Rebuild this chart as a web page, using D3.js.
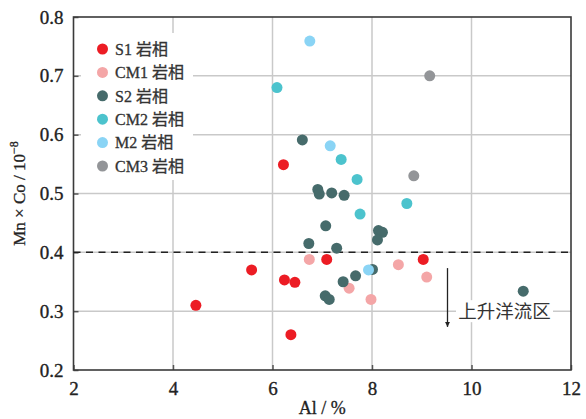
<!DOCTYPE html>
<html><head><meta charset="utf-8">
<script src="https://cdn.jsdelivr.net/npm/d3@7"></script>
<style>body{margin:0;background:#fff}svg{display:block}</style>
</head><body>
<script>
// ---- data ----
const seriesNames = ["S1 岩相","CM1 岩相","S2 岩相","CM2 岩相","M2 岩相","CM3 岩相"];
const seriesColors = ["#ec1c24","#f4a6a7","#466b6b","#4cc3cd","#8ad4f5","#939598"];
const s1Al = [6.22,5.58,6.24,6.45,6.37,7.09,9.03,4.46];
const s1MnCo = [0.549,0.370,0.353,0.349,0.260,0.388,0.388,0.310];
const cm1Al = [6.74,7.54,7.98,8.53,9.10];
const cm1MnCo = [0.388,0.339,0.320,0.379,0.358];
const s2Al = [6.60,6.91,6.94,7.19,7.44,7.07,8.13,8.21,8.11,6.73,7.29,8.01,7.67,7.42,7.06,7.14,11.04];
const s2MnCo = [0.591,0.507,0.499,0.501,0.497,0.445,0.437,0.434,0.421,0.415,0.407,0.371,0.360,0.350,0.326,0.320,0.334];
const cm2Al = [6.09,7.38,7.70,7.76,8.70];
const cm2MnCo = [0.680,0.558,0.524,0.465,0.483];
const m2Al = [6.75,7.16,7.93];
const m2MnCo = [0.759,0.581,0.370];
const cm3Al = [9.16,8.84];
const cm3MnCo = [0.700,0.530];
const xTicks = [2,4,6,8,10,12];
const yTicks = [0.2,0.3,0.4,0.5,0.6,0.7,0.8];
const thresholdY = 0.4;
const upwellLabel = "上升洋流区";
const xLabel = "Al / %";

const series = [
  [s1Al,s1MnCo],[cm1Al,cm1MnCo],[s2Al,s2MnCo],[cm2Al,cm2MnCo],[m2Al,m2MnCo],[cm3Al,cm3MnCo]
].map((d,i)=>({name:seriesNames[i],color:seriesColors[i],pts:d[0].map((x,j)=>[x,d[1][j]])}));

// ---- layout ----
const W=586,H=419;
const L=73.5,R=571,T=17,B=370;
const x=d3.scaleLinear().domain([2,12]).range([L,R]);
const y=d3.scaleLinear().domain([0.2,0.8]).range([B,T]);
const serif='"Liberation Serif","Noto Sans CJK SC",serif';

const svg=d3.select("body").append("svg").attr("width",W).attr("height",H);

// grid
const g=svg.append("g");
g.selectAll(".gx").data(xTicks.slice(1,-1)).join("line")
  .attr("x1",d=>x(d)).attr("x2",d=>x(d)).attr("y1",T).attr("y2",B)
  .attr("stroke","#c9c9c9").attr("stroke-width",1.5);
g.selectAll(".gy").data(yTicks.slice(1,-1)).join("line")
  .attr("y1",d=>y(d)).attr("y2",d=>y(d)).attr("x1",L).attr("x2",R)
  .attr("stroke","#c9c9c9").attr("stroke-width",1.5);

// axes (inward ticks)
const xAxis=d3.axisBottom(x).tickValues(xTicks).tickSize(-5).tickPadding(12).tickFormat(d3.format("d"));
const yAxis=d3.axisLeft(y).tickValues(yTicks).tickSize(-5).tickPadding(10).tickFormat(d3.format(".1f"));
const ax=svg.append("g").attr("transform",`translate(0,${B})`).call(xAxis);
const ay=svg.append("g").attr("transform",`translate(${L},0)`).call(yAxis);
[ax,ay].forEach(a=>{
  a.select(".domain").remove();
  a.selectAll(".tick line").attr("stroke","#555").attr("stroke-width",1.5);
  a.selectAll("text").attr("font-family",serif).attr("font-size",19).attr("fill","#222")
    .attr("stroke","#222").attr("stroke-width",0.35);
});
ax.selectAll("text").attr("dy","0.71em");

// frame
svg.append("rect").attr("x",L).attr("y",T).attr("width",R-L).attr("height",B-T)
  .attr("fill","none").attr("stroke","#3a3a3a").attr("stroke-width",1.6);

// threshold dashed line
svg.append("line").attr("x1",L).attr("x2",R).attr("y1",y(thresholdY)).attr("y2",y(thresholdY))
  .attr("stroke","#222").attr("stroke-width",1.5).attr("stroke-dasharray","7,5.5");

// legend background
svg.append("rect").attr("x",81).attr("y",33).attr("width",112).attr("height",147).attr("fill","#fff");

// upwelling label
const ty=y(0.3);
svg.append("rect").attr("x",456).attr("y",ty-11).attr("width",97).attr("height",22).attr("fill","#fff");
svg.append("text").attr("x",504.5).attr("y",ty).attr("dy","0.36em").attr("text-anchor","middle")
  .attr("font-family",'"Noto Sans CJK SC",sans-serif').attr("font-size",18.5).attr("fill","#333").text(upwellLabel);
// arrow
svg.append("defs").append("marker").attr("id","ah").attr("viewBox","0 0 10 10").attr("refX",10).attr("refY",5)
  .attr("markerWidth",5).attr("markerHeight",9).attr("markerUnits","userSpaceOnUse").attr("orient","auto")
  .append("path").attr("d","M0,0L10,5L0,10z").attr("fill","#222");
svg.append("line").attr("x1",447.5).attr("x2",447.5).attr("y1",y(0.38)+4).attr("y2",y(0.275)+1)
  .attr("stroke","#222").attr("stroke-width",1.3).attr("marker-end","url(#ah)");

// points
series.forEach(s=>{
  svg.append("g").selectAll("circle").data(s.pts).join("circle")
    .attr("cx",d=>x(d[0])).attr("cy",d=>y(d[1])).attr("r",5.5).attr("fill",s.color);
});

// legend
const lg=svg.append("g");
series.forEach((s,i)=>{
  const yy=49+i*23.4;
  lg.append("circle").attr("cx",102.5).attr("cy",yy).attr("r",5.5).attr("fill",s.color);
  lg.append("text").attr("x",115).attr("y",yy).attr("dy","0.36em").attr("font-family",serif)
    .attr("font-size",16).attr("fill","#333").attr("stroke","#333").attr("stroke-width",0.3).text(s.name);
});

// axis labels
svg.append("text").attr("x",(L+R)/2).attr("y",414).attr("text-anchor","middle")
  .attr("font-family",serif).attr("font-size",18).attr("fill","#222")
  .attr("stroke","#222").attr("stroke-width",0.3).text(xLabel);
const yl=svg.append("text").attr("transform",`translate(25,${(T+B)/2}) rotate(-90)`).attr("text-anchor","middle")
  .attr("font-family",serif).attr("font-size",17).attr("fill","#222")
  .attr("stroke","#222").attr("stroke-width",0.3);
yl.append("tspan").text("Mn × Co / 10");
yl.append("tspan").attr("dy",-7).attr("font-size",12).text("−8");
</script>
</body></html>
